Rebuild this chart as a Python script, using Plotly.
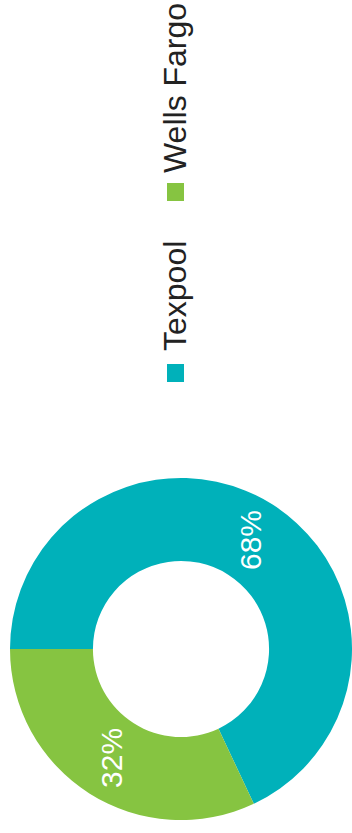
import math
import plotly.graph_objects as go

labels = ["Texpool", "Wells Fargo"]
values = [68, 32]
colors = ["#00B1BA", "#86C441"]

W, H = 352, 833
cx, cy = 181.0, 649.0      # donut centre in pixels (from top-left)
R = 171.0                  # outer radius px
hole = 0.515
start_rot = 270            # first slice starts at 9 o'clock, clockwise

fig = go.Figure(go.Pie(
    labels=labels,
    values=values,
    marker=dict(colors=colors, line=dict(width=0)),
    hole=hole,
    sort=False,
    direction="clockwise",
    rotation=start_rot,
    textinfo="none",
    hoverinfo="label+percent",
    domain=dict(x=[(cx - R) / W, min(1, (cx + R) / W)],
                y=[(H - cy - R) / H, (H - cy + R) / H]),
))

annotations = []
total = sum(values)
acc = 0.0
r_mid = R * (1 + hole) / 2
for lab, v in zip(labels, values):
    mid = start_rot + (acc + v / 2) / total * 360
    acc += v
    a = math.radians(mid)
    px = cx + r_mid * math.sin(a)
    py = cy - r_mid * math.cos(a)
    annotations.append(dict(
        x=px / W, y=(H - py) / H, xref="paper", yref="paper",
        text=f"{round(v / total * 100)}%", showarrow=False, textangle=-90,
        font=dict(family="Liberation Sans, Arial", size=30, color="white"),
        xanchor="center", yanchor="middle"))

# custom rotated legend
legend_text_centers = [296, 88]
legend_square_tops = [364, 183]
shapes = []
for lab, col, ty, sy in zip(labels, colors, legend_text_centers, legend_square_tops):
    annotations.append(dict(
        x=175 / W, y=(H - ty) / H, xref="paper", yref="paper",
        text=lab, showarrow=False, textangle=-90,
        font=dict(family="Liberation Sans, Arial", size=32, color="#222222"),
        xanchor="center", yanchor="middle"))
    shapes.append(dict(type="rect", xref="paper", yref="paper",
                       x0=167 / W, x1=184 / W,
                       y0=(H - sy - 18) / H, y1=(H - sy) / H,
                       fillcolor=col, line=dict(width=0)))

fig.update_layout(
    width=W, height=H,
    margin=dict(l=0, r=0, t=0, b=0),
    paper_bgcolor="white", plot_bgcolor="white",
    showlegend=False,
    annotations=annotations,
    shapes=shapes,
)

fig.write_html("out.html")
